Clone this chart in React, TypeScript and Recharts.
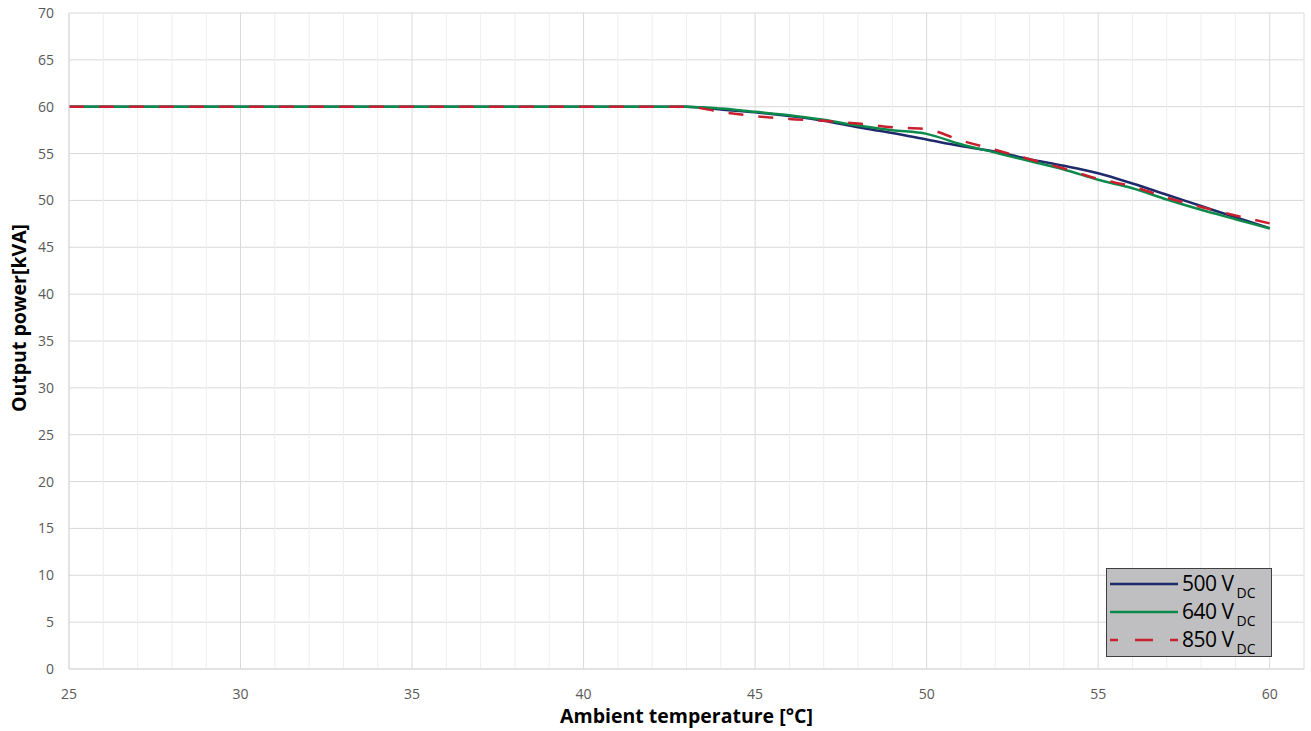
import React from "react";
import {
  CartesianGrid,
  Label,
  Legend,
  Line,
  LineChart,
  ReferenceLine,
  XAxis,
  YAxis,
} from "recharts";

// ambient temperature (°C) at which each reading was taken
const temps = [25, 43, 44, 45, 46, 47, 48, 49, 50, 51, 52, 53, 54, 55, 56, 57, 58, 59, 60];
// output power (kVA) for each DC input voltage
const power500 = [60, 60, 59.7, 59.4, 59.0, 58.5, 57.8, 57.2, 56.5, 55.8, 55.2, 54.4, 53.7, 52.9, 51.8, 50.6, 49.4, 48.2, 47.05];
const power640 = [60, 60, 59.8, 59.45, 59.1, 58.6, 58.0, 57.5, 57.1, 56.0, 55.1, 54.2, 53.3, 52.2, 51.3, 50.1, 49.0, 48.0, 47.0];
const power850 = [60, 60, 59.45, 59.0, 58.7, 58.5, 58.2, 57.8, 57.6, 56.4, 55.4, 54.4, 53.4, 52.3, 51.5, 50.3, 49.3, 48.4, 47.55];

const xTicks = [25, 30, 35, 40, 45, 50, 55, 60];
const xMinor = [26, 27, 28, 29, 31, 32, 33, 34, 36, 37, 38, 39, 41, 42, 43, 44, 46, 47, 48, 49, 51, 52, 53, 54, 56, 57, 58, 59, 61];
const yTicks = [0, 5, 10, 15, 20, 25, 30, 35, 40, 45, 50, 55, 60, 65, 70];

const seriesNames = ["500", "640", "850"];
const seriesColors = ["#1F2A6B", "#0C8A4C", "#C8202F"];

const data = temps.map((t, i) => ({
  t,
  v500: power500[i],
  v640: power640[i],
  v850: power850[i],
}));

const FONT = "'Open Sans', sans-serif";

function LegendBox() {
  return (
    <div
      style={{
        width: 166,
        height: 89,
        boxSizing: "border-box",
        background: "#BFBFC1",
        border: "1px solid #3F3F3F",
        fontFamily: FONT,
        color: "#000",
        paddingTop: 1,
      }}
    >
      {seriesNames.map((name, i) => (
        <div key={name} style={{ display: "flex", alignItems: "center", height: 28 }}>
          <svg width={72} height={6} style={{ marginLeft: 3 }}>
            <line
              x1={0}
              y1={3}
              x2={68}
              y2={3}
              stroke={seriesColors[i]}
              strokeWidth={2.5}
              strokeDasharray={i === 2 ? "18 17" : undefined}
              strokeDashoffset={i === 2 ? 10 : undefined}
            />
          </svg>
          <span style={{ fontSize: 21, lineHeight: "22px", whiteSpace: "nowrap", letterSpacing: -0.5 }}>
            {name} V
            <span style={{ fontSize: 14, position: "relative", top: 7, marginLeft: 3, letterSpacing: 0 }}>DC</span>
          </span>
        </div>
      ))}
    </div>
  );
}

export default function App() {
  return (
    <div style={{ position: "absolute", left: 0, top: 0, width: 1311, height: 731, background: "#fff" }}>
      <LineChart
        width={1311}
        height={731}
        data={data}
        margin={{ top: 13, right: 7, bottom: 0, left: 0 }}
      >
        {xMinor.map((x) => (
          <ReferenceLine key={x} x={x} stroke="#EEEEEE" strokeWidth={1} />
        ))}
        <CartesianGrid stroke="#D9D9D9" strokeWidth={1} />
        <XAxis
          dataKey="t"
          type="number"
          domain={[25, 61]}
          ticks={xTicks}
          interval={0}
          height={62}
          tickLine={false}
          tickSize={6}
          tickMargin={14}
          axisLine={{ stroke: "#D9D9D9" }}
          tick={{ fill: "#595959", fontSize: 14, fontFamily: FONT }}
        >
          <Label
            value="Ambient temperature [°C]"
            position="insideBottom"
            offset={8}
            style={{ fill: "#000", fontSize: 19.5, fontWeight: 700, fontFamily: FONT }}
          />
        </XAxis>
        <YAxis
          type="number"
          domain={[0, 70]}
          ticks={yTicks}
          interval={0}
          width={69}
          tickLine={false}
          tickSize={6}
          tickMargin={9}
          axisLine={{ stroke: "#D9D9D9" }}
          tick={{ fill: "#595959", fontSize: 14, fontFamily: FONT }}
        >
          <Label
            content={() => (
              <text
                x={18}
                y={318}
                transform="rotate(-90 18 318)"
                textAnchor="middle"
                dominantBaseline="central"
                style={{ fill: "#000", fontSize: 19.5, fontWeight: 700, fontFamily: FONT }}
              >
                Output power[kVA]
              </text>
            )}
          />
        </YAxis>
        <Legend
          layout="vertical"
          align="center"
          verticalAlign="middle"
          wrapperStyle={{ left: 1106, top: 568, width: 166, height: 89 }}
          content={() => <LegendBox />}
        />
        <Line
          type="monotone"
          dataKey="v500"
          stroke={seriesColors[0]}
          strokeWidth={2.5}
          dot={false}
          isAnimationActive={false}
        />
        <Line
          type="monotone"
          dataKey="v640"
          stroke={seriesColors[1]}
          strokeWidth={2.5}
          dot={false}
          isAnimationActive={false}
        />
        <Line
          type="monotone"
          dataKey="v850"
          stroke={seriesColors[2]}
          strokeWidth={2.5}
          strokeDasharray="15 15"
          dot={false}
          isAnimationActive={false}
        />
      </LineChart>
    </div>
  );
}
